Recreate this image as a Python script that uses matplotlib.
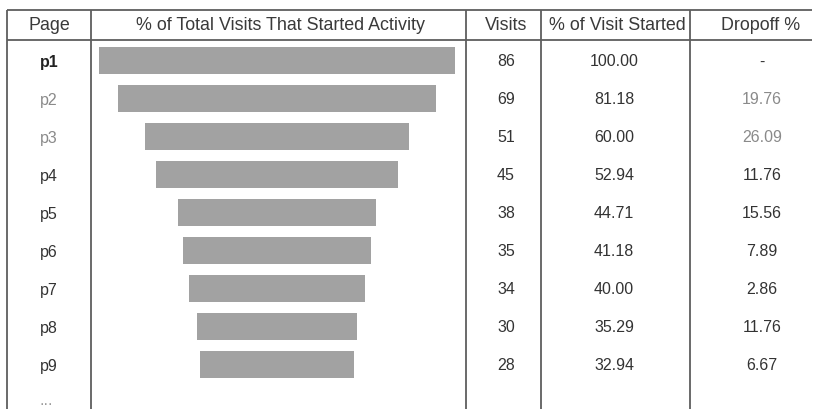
import matplotlib
matplotlib.use("Agg")
import matplotlib.pyplot as plt

plt.rcParams['font.family'] = ['Liberation Sans', 'DejaVu Sans']

# ---- data ----
pages = ["p1", "p2", "p3", "p4", "p5", "p6", "p7", "p8", "p9"]
visits = [86, 69, 51, 45, 38, 35, 34, 30, 28]
pct_started = ["100.00", "81.18", "60.00", "52.94", "44.71", "41.18", "40.00", "35.29", "32.94"]
dropoff = ["-", "19.76", "26.09", "11.76", "15.56", "7.89", "2.86", "11.76", "6.67"]
# bar lengths as drawn in the picture (relative to p1 = 100)
bar_lengths = [100, 89.6, 73.9, 67.7, 55.6, 52.8, 49.7, 45.2, 43.0]
headers = ["Page", "% of Total Visits That Started Activity", "Visits",
           "% of Visit Started", "Dropoff %"]

# ---- layout (pixels) ----
W, H = 818, 409
col_edges = [7, 91, 466, 541, 690, 812]
col_centers = [49, 278.5, 506, 614, 762]
header_centers = [49, 281, 506, 617, 761]
top_y, head_y, header_line_y = 10, 25, 40
row0, row_step = 60.5, 38.0

page_style = {0: dict(weight="bold", color="#222222"),
              1: dict(color="#8a8a8a"), 2: dict(color="#8a8a8a")}
drop_gray = {1, 2}

fig = plt.figure(figsize=(W / 100, H / 100), dpi=100)
ax = fig.add_axes([0, 0, 1, 1])
ax.set_xlim(0, W)
ax.set_ylim(H, 0)
ax.axis("off")

line_kw = dict(color="#5e5e5e", lw=1.3, solid_capstyle="butt")
ax.plot([col_edges[0], col_edges[-1]], [top_y, top_y], **line_kw)
ax.plot([col_edges[0], col_edges[-1]], [header_line_y, header_line_y], **line_kw)
for x in col_edges[:-1]:
    ax.plot([x, x], [top_y, H], **line_kw)

for hx, h in zip(header_centers, headers):
    ax.text(hx, head_y + 0.5, h, ha="center", va="center", fontsize=12.9, color="#3a3a3a")

def ry(i):
    return row0 + row_step * i

body_fs = 11.5
for i, p in enumerate(pages):
    y = ry(i) + 1.5
    st = dict(color="#333333")
    st.update(page_style.get(i, {}))
    ax.text(col_centers[0], y, p, ha="center", va="center", fontsize=body_fs, **st)
    ax.text(col_centers[2], y, str(visits[i]), ha="center", va="center",
            fontsize=body_fs, color="#333333")
    ax.text(col_centers[3], y, pct_started[i], ha="center", va="center",
            fontsize=body_fs, color="#333333")
    ax.text(col_centers[4], y, dropoff[i], ha="center", va="center", fontsize=body_fs,
            color="#8a8a8a" if i in drop_gray else "#333333")
ax.text(col_centers[0] - 3, 405, "...", ha="center", va="baseline",
        fontsize=11.5, color="#9a9a9a")

# ---- bar column ----
px_per_unit = 3.56
bar_center_px = 277
half = (col_edges[2] - col_edges[1]) / 2 / px_per_unit
offset = (bar_center_px - (col_edges[1] + col_edges[2]) / 2) / px_per_unit
axb = fig.add_axes([col_edges[1] / W, 0, (col_edges[2] - col_edges[1]) / W, 1])
axb.set_xlim(-half - offset, half - offset)
axb.set_ylim((H - row0) / row_step, -row0 / row_step)
axb.axis("off")
rows = list(range(len(pages)))
lefts = [-b / 2 for b in bar_lengths]
axb.barh(rows, bar_lengths, left=lefts, height=27.5 / row_step, color="#a2a2a2")

fig.savefig("out.png", dpi=100)
